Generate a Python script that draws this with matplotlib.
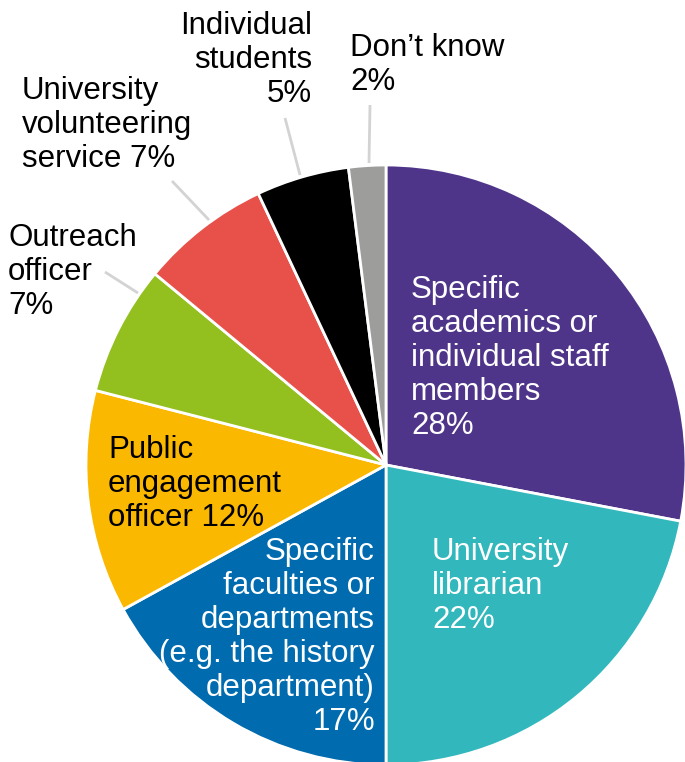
import matplotlib
matplotlib.use("Agg")
import matplotlib.pyplot as plt

# Who respondents contact, share of responses (%)
categories = [
    "Specific academics or individual staff members",
    "University librarian",
    "Specific faculties or departments (e.g. the history department)",
    "Public engagement officer",
    "Outreach officer",
    "University volunteering service",
    "Individual students",
    "Don\u2019t know",
]
values = [28, 22, 17, 12, 7, 7, 5, 2]
colors = ["#4F3589", "#31B7BC", "#006BAE", "#FBB800",
          "#93C01F", "#E8504A", "#000000", "#9D9D9C"]

# Label text (wrapped as printed) per slice
label_texts = [
    "Specific\nacademics or\nindividual staff\nmembers\n{}%",
    "University\nlibrarian\n{}%",
    "Specific\nfaculties or\ndepartments\n(e.g. the history\ndepartment)\n{}%",
    "Public\nengagement\nofficer {}%",
    "Outreach\nofficer\n{}%",
    "University\nvolunteering\nservice {}%",
    "Individual\nstudents\n{}%",
    "Don\u2019t know\n{}%",
]

W, H = 685, 762
fig = plt.figure(figsize=(W / 100, H / 100), dpi=100)
ax = fig.add_axes([0, 0, 1, 1])

cx, cy, r = 386, H - 465, 300
ax.pie(values, colors=colors, startangle=90, counterclock=False,
       center=(cx, cy), radius=r, frame=True,
       wedgeprops=dict(edgecolor="white", linewidth=2))
ax.set_xlim(0, W)
ax.set_ylim(0, H)
ax.set_aspect("equal")
ax.axis("off")

font = dict(family="Liberation Sans", fontsize=22.5, linespacing=1.18)

# (x, y from top, ha, colour) for each label
placements = [
    (411, 358, "left", "white"),
    (432, 586, "left", "white"),
    (375, 637, "right", "white"),
    (108, 484, "left", "black"),
    (8, 272, "left", "black"),
    (22, 125, "left", "black"),
    (312, 60, "right", "black"),
    (350, 65, "left", "black"),
]
for txt, v, (x, y, ha, c) in zip(label_texts, values, placements):
    ax.text(x, H - y, txt.format(v), ha=ha, va="center",
            multialignment=ha, color=c, **font)

# Leader lines for the small outer slices
leaders = [
    ((105, 272), (138, 293)),
    ((172, 181), (209, 220)),
    ((285, 118), (300, 175)),
    ((370, 105), (369, 163)),
]
for (x0, y0), (x1, y1) in leaders:
    ax.plot([x0, x1], [H - y0, H - y1], color="#D3D3D3", lw=2,
            solid_capstyle="butt", zorder=0.5)

fig.savefig("out.png", dpi=100)
